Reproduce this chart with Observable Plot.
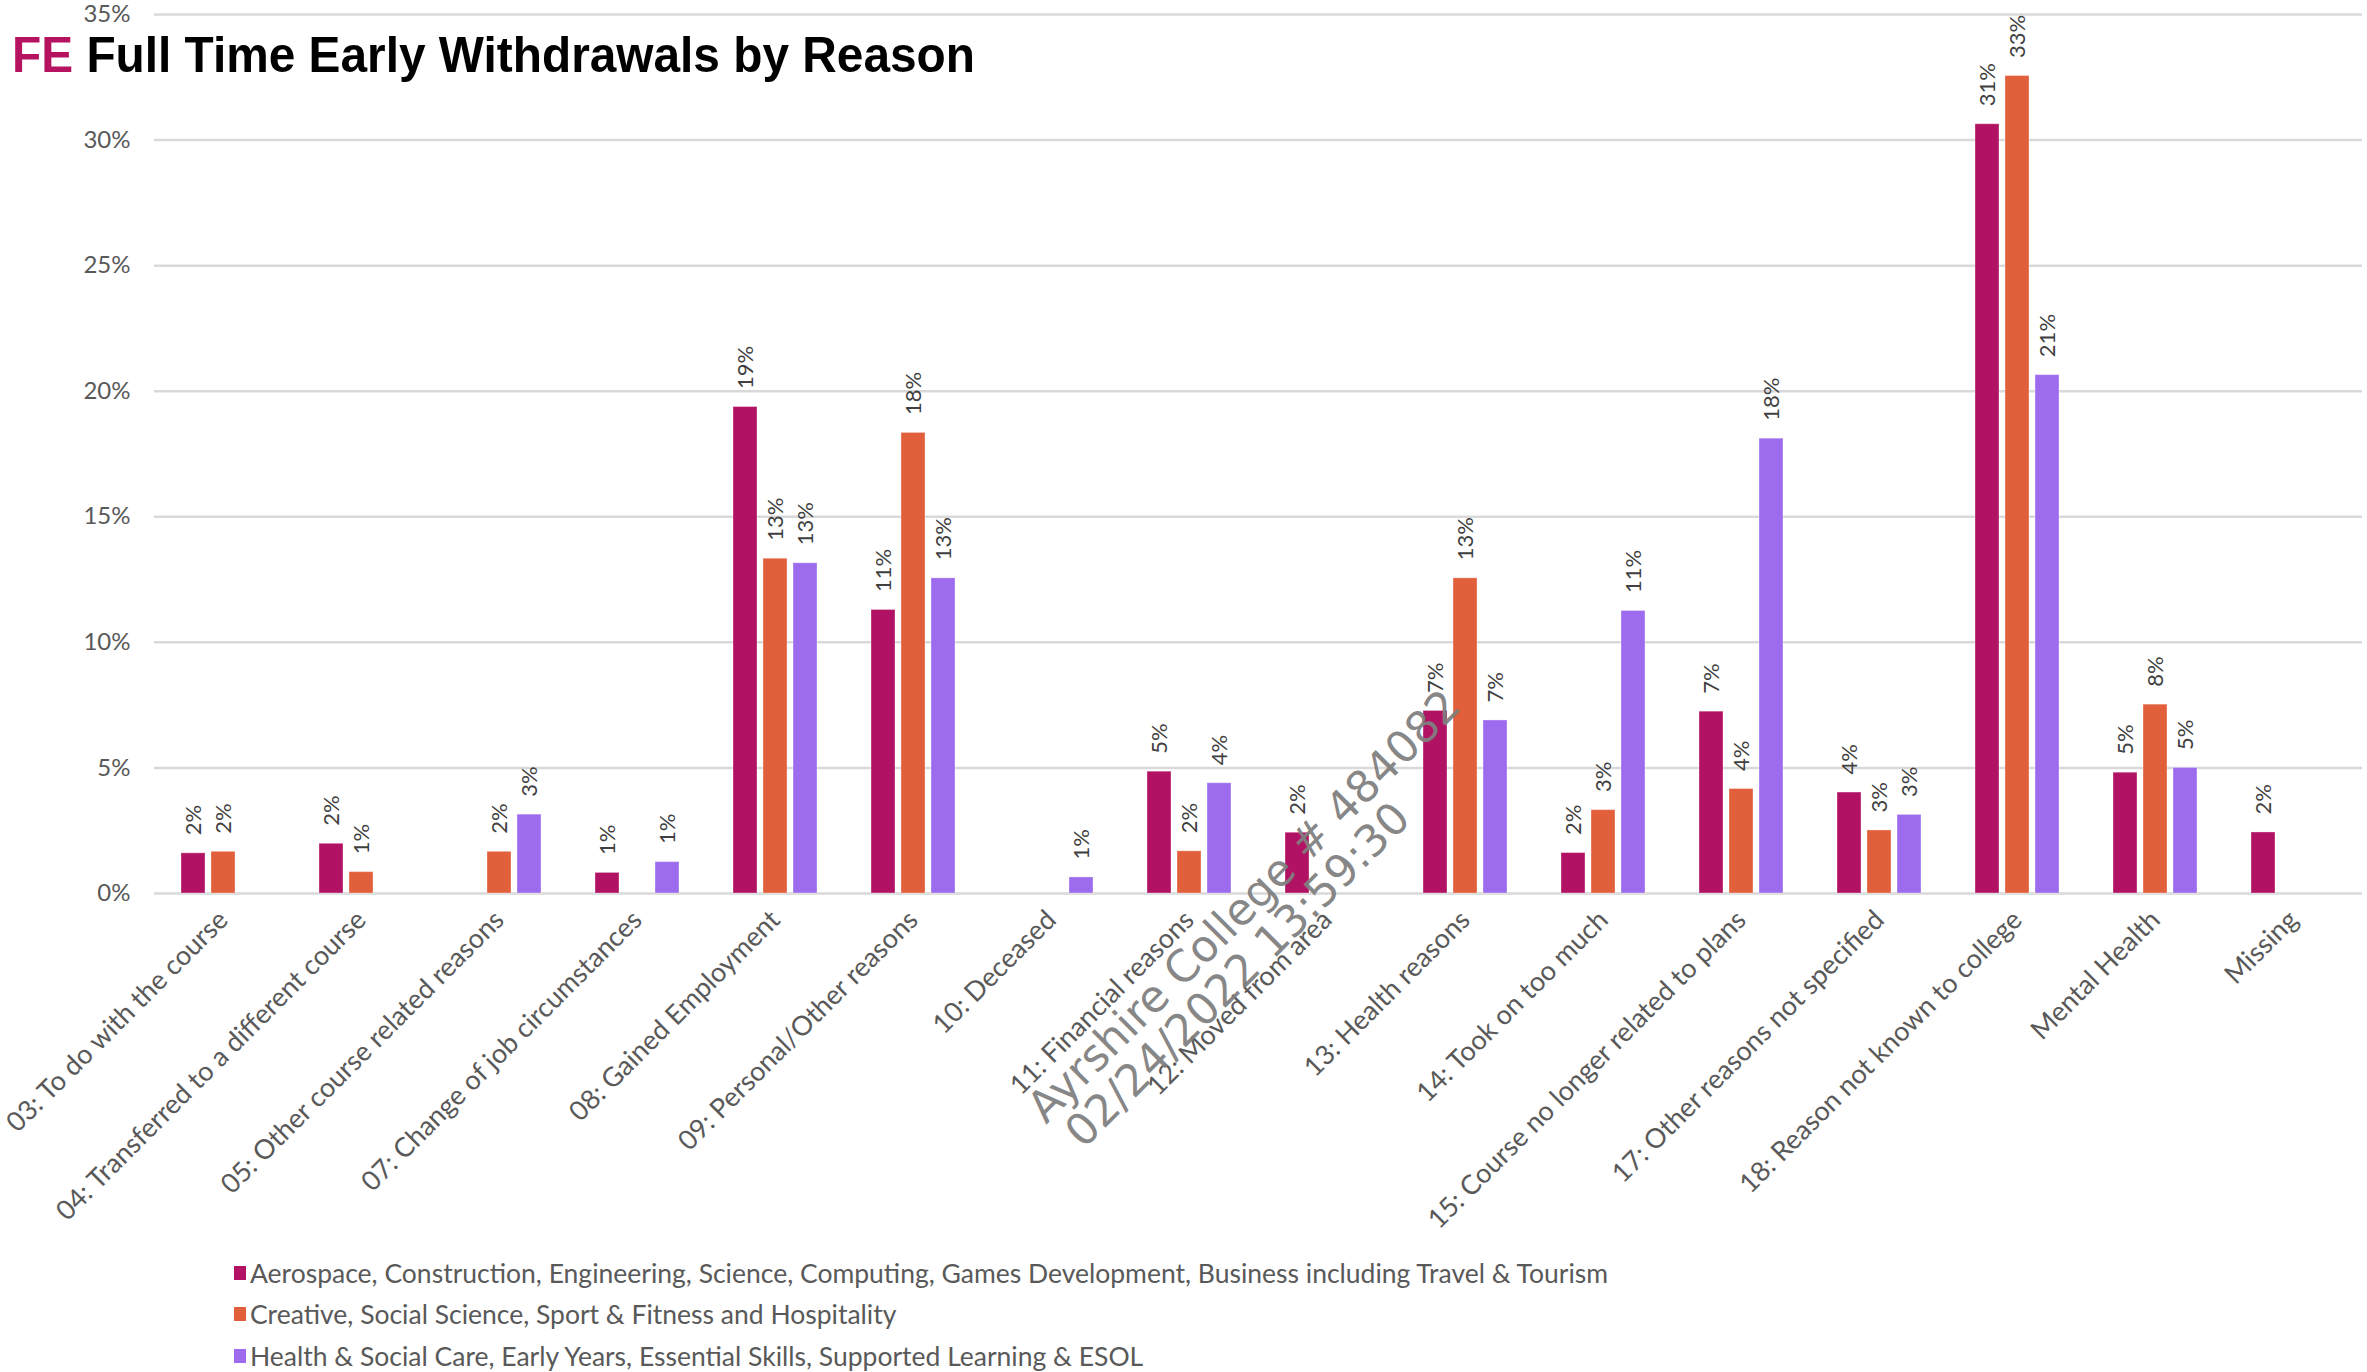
<!DOCTYPE html>
<html>
<head>
<meta charset="utf-8">
<script src="https://cdn.jsdelivr.net/npm/d3@7"></script>
<script src="https://cdn.jsdelivr.net/npm/@observablehq/plot@0.6"></script>
<style>
  html, body { margin: 0; padding: 0; background: #fff; }
  #wrap { position: relative; width: 2367px; height: 1372px; overflow: hidden; font-family: Lato, "Open Sans", sans-serif; }
  #chart { position: absolute; left: 0; top: 0; }
  #overlay { position: absolute; left: 0; top: 0; pointer-events: none; }
  #legend { position: absolute; left: 234px; top: 1252px; }
  .row { display: flex; align-items: center; height: 41.5px; font-size: 26.5px; color: #595959; white-space: nowrap; }
  .sw { width: 12px; height: 14px; margin-right: 4px; flex: none; }
</style>
</head>
<body>
<div id="wrap">
  <div id="chart"></div>
  <div id="legend"></div>
  <svg id="overlay" width="2367" height="1372"></svg>
</div>
<script>
// ---- data ----
const categories = [
  "03: To do with the course",
  "04: Transferred to a different course",
  "05: Other course related reasons",
  "07: Change of job circumstances",
  "08: Gained Employment",
  "09: Personal/Other reasons",
  "10: Deceased",
  "11: Financial reasons",
  "12: Moved from area",
  "13: Health reasons",
  "14: Took on too much",
  "15: Course no longer related to plans",
  "17: Other reasons not specified",
  "18: Reason not known to college",
  "Mental Health",
  "Missing"
];
const seriesNames = [
  "Aerospace, Construction, Engineering, Science, Computing, Games Development, Business including Travel & Tourism",
  "Creative, Social Science, Sport & Fitness and Hospitality",
  "Health & Social Care, Early Years, Essential Skills, Supported Learning & ESOL"
];
const seriesColors = ["#b21263", "#e25f3c", "#9d6bee"];
const aerospace = [1.60, 1.98, null, 0.82, 19.37, 11.29, null, 4.85, 2.42, 7.27, 1.61, 7.24, 4.02, 30.63, 4.81, 2.43];
const creative  = [1.66, 0.85, 1.66, null, 13.33, 18.34, null, 1.68, null, 12.55, 3.32, 4.16, 2.51, 32.55, 7.52, null];
const health    = [null, null, 3.14, 1.25, 13.15, 12.55, 0.64, 4.39, null, 6.89, 11.25, 18.11, 3.13, 20.64, 5.00, null];
const yTicks = [0, 5, 10, 15, 20, 25, 30, 35];
const titlePrefix = "FE";
const titleText = " Full Time Early Withdrawals by Reason";
const watermark = ["Ayrshire College # 484082", "02/24/2022 13:59:30"];

// ---- table ----
const seriesValues = [aerospace, creative, health];
const rows = [];
seriesValues.forEach((vals, si) => {
  vals.forEach((v, ci) => {
    if (v != null) rows.push({category: categories[ci], series: seriesNames[si], value: v});
  });
});

const W = 2367, H = 1240;
const font = "Lato, 'Open Sans', sans-serif";

const chart = Plot.plot({
  width: W,
  height: H,
  marginLeft: 150,
  marginRight: 1,
  marginTop: 14,
  marginBottom: H - 893,
  style: {fontFamily: font, background: "#fff", color: "#595959"},
  fx: {domain: categories, paddingInner: 0, paddingOuter: 0, axis: null},
  x: {domain: seriesNames, paddingInner: 0.194, paddingOuter: 0.831, axis: null},
  y: {domain: [0, 35], axis: null},
  color: {domain: seriesNames, range: seriesColors},
  marks: [
    Plot.ruleY(yTicks, {stroke: "#d9d9d9", strokeWidth: 2.5}),
    Plot.barY(rows, {fx: "category", x: "series", y: "value", fill: "series", stroke: "#ffffff", strokeOpacity: 0.35, strokeWidth: 1}),
    Plot.text(rows, {fx: "category", x: "series", y: "value", text: d => Math.round(d.value) + "%",
      rotate: -90, textAnchor: "start", dy: -18, fontSize: 22, fill: "#404040"}),
    Plot.axisY({ticks: yTicks, tickFormat: d => d + "%", tickSize: 0, tickPadding: 24, fontSize: 24, fill: "#595959", label: null}),
    Plot.axisFx({anchor: "bottom", tickRotate: -45, tickSize: 0, tickPadding: 22, fontSize: 27, fill: "#595959", label: null})
  ]
});
document.getElementById("chart").appendChild(chart);

// ---- legend ----
const legend = document.getElementById("legend");
seriesNames.forEach((name, i) => {
  const row = document.createElement("div");
  row.className = "row";
  const sw = document.createElement("span");
  sw.className = "sw";
  sw.style.background = seriesColors[i];
  const t = document.createElement("span");
  t.textContent = name;
  row.appendChild(sw); row.appendChild(t);
  legend.appendChild(row);
});

// ---- title & watermark overlay ----
const ov = d3.select("#overlay");
const title = ov.append("text")
  .attr("x", 12).attr("y", 72)
  .attr("font-family", "'Liberation Sans', Arial, sans-serif")
  .attr("font-weight", "bold").attr("font-size", 50)
  .attr("textLength", 963).attr("lengthAdjust", "spacingAndGlyphs");
title.append("tspan").attr("fill", "#b5135f").text(titlePrefix);
title.append("tspan").attr("fill", "#000").text(titleText);

const wm = ov.append("g").attr("transform", "translate(1046,1125) rotate(-45)")
  .attr("font-family", "'DejaVu Sans', sans-serif").attr("font-size", 44)
  .attr("fill", "#7f7f7f").attr("fill-opacity", 0.95);
wm.append("text").attr("x", 0).attr("y", 0).text(watermark[0]);
wm.append("text").attr("x", 9).attr("y", 44).text(watermark[1]);
</script>
</body>
</html>
